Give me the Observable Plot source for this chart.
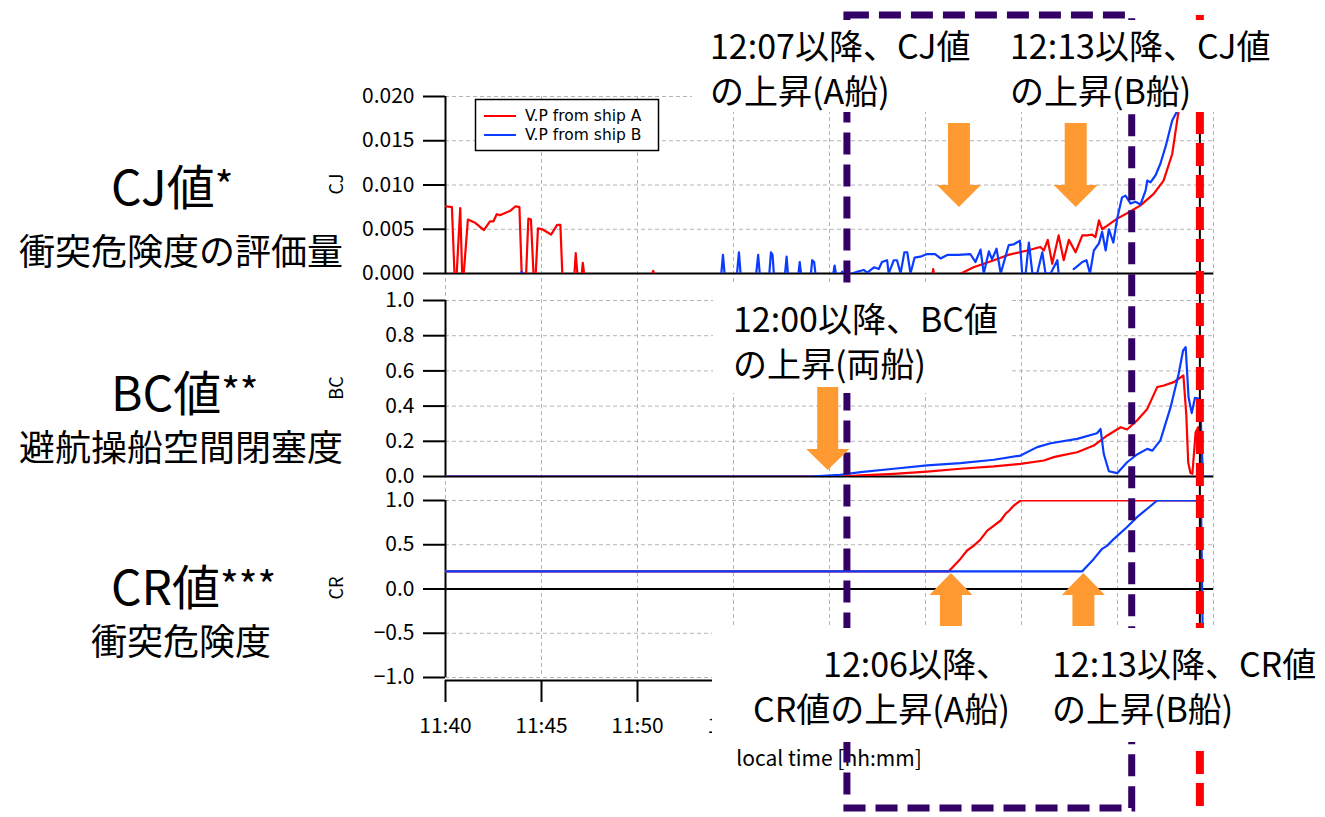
<!DOCTYPE html>
<html><head><meta charset="utf-8">
<script src="https://cdn.jsdelivr.net/npm/d3@7"></script>
<script src="https://cdn.jsdelivr.net/npm/@observablehq/plot@0.6"></script>
<style>
body{margin:0;background:#fff;}
#fig{position:relative;width:1325px;height:817px;overflow:hidden;background:#fff;font-family:"Noto Sans CJK JP","Noto Sans",sans-serif;}
#fig svg{position:absolute;left:0;top:0;}
</style></head><body><div id="fig"></div>
<script>
// ---------- data (time = minutes after 11:40) ----------
const startClock = [11, 40];
const endMinutes = 40;
const timeTicks = [0, 5, 10, 15, 20, 25, 30, 35, 40];
const visibleTimeLabels = [0, 5, 10, 15];   // the others are hidden behind the note boxes
const cjTicks = [0, 0.005, 0.010, 0.015, 0.020];
const bcTicks = [0, 0.2, 0.4, 0.6, 0.8, 1.0];
const crTicks = [-1, -0.5, 0, 0.5, 1];
const seriesNames = ["V.P from ship A", "V.P from ship B"];

// CJ, ship A (null = no data)
const cjA_min = [0.00,0.33,0.47,0.58,0.76,0.86,0.95,1.16,1.56,2.00,2.31,2.50,2.66,2.86,3.39,3.65,3.85,3.96,4.20,4.31,4.45,4.58,4.70,4.81,5.03,5.50,5.82,5.99,6.08,6.30,
  6.72,6.78,6.86,7.00,7.10,7.15,7.22,8.00,10.78,10.82,10.86,15.0,25.36,25.40,25.44,26.0,
  26.85,27.50,28.56,29.30,30.30,30.99,31.16,31.37,31.60,31.94,32.20,32.46,32.81,33.16,33.42,33.68,33.85,34.03,34.20,34.46,34.98,35.50,36.20,36.89,37.40,37.85,38.19,38.45];
const cjA_val = [0.0076,0.0075,0,0,0.0074,0,0,0.0061,0.0057,0.0049,0.0059,0.0059,0.0067,0.0066,0.0071,0.0076,0.0075,0,0,0.0062,0.0061,0,0,0.0051,0.0050,0.0044,0.0055,0.0055,0,null,
  0,0.0023,0,null,0,0.0012,0,null,0,0.0003,0,null,0,0.0005,0,null,
  0,0.0007,0.0015,0.0021,0.0026,0.0030,0.0026,0.0038,0.0011,0.0043,0.0015,0.0038,0.0024,0.0043,0.0043,0.0044,0.0041,0.0060,0.0050,0.0054,0.0062,0.0068,0.0077,0.0090,0.0105,0.0135,0.0184,0.0260];

// CJ, ship B
const cjB_min = [3.94,3.97,4.00,4.2, 14.36,14.45,14.54,14.8, 15.19,15.28,15.37,15.6, 16.19,16.28,16.37,16.6, 16.86,16.95,17.04,17.10,17.3,
  17.68,17.76,17.84,18.0, 18.38,18.45,18.52,18.7, 19.03,19.10,19.20,19.27,19.5, 20.20,20.26,20.33,20.45, 20.60,20.66,20.72,20.9,
  21.18,21.44,21.79,21.96,22.31,22.57,22.74,23.00,23.09,23.35,23.52,23.70,23.90,24.05,24.22,24.43,24.74,25.09,25.50,25.78,26.13,26.70,
  27.34,27.60,27.86,28.04,28.30,28.47,28.70,28.91,29.34,29.60,29.91,30.03,30.21,30.38,30.56,30.82,31.08,31.25,31.51,31.86,31.94,32.3,
  32.72,32.90,33.16,33.39,33.56,33.77,34.03,34.20,34.38,34.55,34.78,34.98,35.24,35.42,35.68,35.94,36.20,36.46,36.55,36.72,36.98,37.24,37.50,37.85,38.11,38.30];
const cjB_val = [0,0.0002,0,null, 0,0.0021,0,null, 0,0.0024,0,null, 0,0.0021,0,null, 0,0.0024,0.0021,0,null,
  0,0.0019,0,null, 0,0.0013,0,null, 0,0.0015,0.0013,0,null, 0,0.0009,0,null, 0,0.0002,0,null,
  0,0.0002,0.0004,0.0001,0.0007,0.0005,0.0013,0.0015,0,0.0015,0.0015,0,0.0024,0.0024,0,0.0018,0.0019,0.0022,0.0022,0.0017,0.0021,0.0021,
  0.0022,0.0013,0.0027,0,0.0025,0.0016,0.0028,0,0.0032,0.0033,0.0037,0,0,0.0035,0,0,0.0024,0,0,0.0015,0,null,
  0.0005,0.0008,0.0013,0.0015,0,0.0026,0.0034,0.0047,0.0026,0.0050,0.0035,0.0062,0.0086,0.0088,0.0079,0.0081,0.0078,0.0094,0.0105,0.0103,0.0111,0.0124,0.0143,0.0173,0.0184,0.0240];

// BC, ship A
const bcA_min = [0,20.57,21.61,23.35,25.09,26.82,28.56,29.95,31.16,31.68,32.03,32.90,33.77,34.46,35.16,35.50,36.02,36.55,37.07,37.41,37.93,38.44,38.58,38.68,38.80,38.90,39.06,39.20,39.32,39.45];
const bcA_val = [0,0,0.006,0.015,0.028,0.044,0.057,0.072,0.091,0.110,0.119,0.138,0.176,0.233,0.280,0.267,0.318,0.384,0.508,0.517,0.536,0.574,0.350,0.080,0.020,0.015,0.250,0.280,0.200,0];
// BC, ship B
const bcB_min = [0,19.00,20.57,21.61,23.35,25.09,26.82,28.56,29.95,30.82,31.51,32.90,33.94,34.11,34.29,34.55,34.98,35.50,36.02,36.55,36.81,37.24,37.76,38.19,38.42,38.55,38.70,38.86,39.04,39.30,39.45,39.90];
const bcB_val = [0,0,0.010,0.025,0.044,0.063,0.076,0.095,0.119,0.167,0.189,0.214,0.246,0.270,0.129,0.030,0.019,0.081,0.125,0.157,0.147,0.205,0.394,0.583,0.716,0.735,0.450,0.360,0.447,0.440,0,0];

// CR, ship A
const crA_min = [0,26.22,26.82,27.17,27.52,27.86,28.21,28.56,28.91,29.17,29.34,29.60,29.95,39.30];
const crA_val = [0.2,0.2,0.34,0.435,0.49,0.56,0.66,0.717,0.774,0.85,0.88,0.943,1.0,1.0];
// CR, ship B
const crB_min = [0,33.16,33.77,34.20,34.46,34.81,35.50,36.02,36.55,37.07,39.35,39.47];
const crB_val = [0.2,0.2,0.34,0.454,0.49,0.567,0.70,0.812,0.907,1.0,1.0,-1.0];

// annotation times (minutes after 11:40)
const boxStart = 20.94, boxEnd = 35.76, redMarker = 39.32;
const cjArrowTimes = [26.77, 32.85];
const bcArrowTimes = [19.93];
const crArrowTimes = [26.35, 33.25];

// ---------- helpers ----------
const FONT = '"Noto Sans CJK JP","Noto Sans",sans-serif';
const RED = "#ff0000", BLUE = "#0a3cff", ORANGE = "#ff9a33", PURPLE = "#330066";
const T = m => new Date(2020, 0, 1, startClock[0], startClock[1] + Math.floor(m), Math.round((m % 1) * 60));
const rows = (mins, vals) => mins.map((m, i) => ({time: T(m), value: vals[i] == null ? NaN : vals[i]}));
const xDomain = [T(0), T(endMinutes)];
const gridStyle = {stroke: "#b4b4b4", strokeOpacity: 1, strokeWidth: 1, strokeDasharray: "4,3"};
const common = {width: 1325, marginLeft: 445, marginRight: 112,
  style: {background: "transparent", position: "absolute", left: "0px", top: "0px", overflow: "visible", fontFamily: FONT}};
const fig = document.getElementById("fig");

// background vertical grid
const bg = Plot.plot({...common, height: 817, marginTop: 96, marginBottom: 140,
  x: {type: "time", domain: xDomain, axis: null},
  marks: [Plot.gridX(timeTicks.map(T), gridStyle)]});
fig.appendChild(bg);

const hhmm = d3.timeFormat("%H:%M");
const visibleLabelTimes = new Set(visibleTimeLabels.map(m => +T(m)));

function panel({height, marginTop, marginBottom, domain, ticks, fmt, A, B, xAxis}) {
  const marks = [
    Plot.gridY(ticks.filter(d => d !== 0), gridStyle),
    Plot.ruleY([0], {stroke: "black", strokeWidth: 2}),
    Plot.ruleX([T(0)], {stroke: "black", strokeWidth: 2}),
    Plot.axisY(ticks, {tickSize: 22, tickPadding: 9, tickFormat: d3.format(fmt), fontSize: 21, strokeWidth: 2, label: null}),
    Plot.line(A, {x: "time", y: "value", stroke: RED, strokeWidth: 2.2, clip: true}),
    Plot.line(B, {x: "time", y: "value", stroke: BLUE, strokeWidth: 2.2, clip: true})
  ];
  if (xAxis) {
    marks.push(Plot.ruleY([domain[0]], {stroke: "black", strokeWidth: 2, dy: 3}));
    marks.push(Plot.axisX(timeTicks.map(T), {tickSize: 22, tickPadding: 16,
      tickFormat: d => visibleLabelTimes.has(+d) ? hhmm(d) : "", fontSize: 21, strokeWidth: 2, label: null, dy: 3}));
  }
  return Plot.plot({...common, height, marginTop, marginBottom,
    x: {type: "time", domain: xDomain, ...(xAxis ? {} : {axis: null})},
    y: {domain},
    marks});
}

const cj = panel({height: 290, marginTop: 96, marginBottom: 17, domain: [0, 0.02], ticks: cjTicks, fmt: ".3f",
  A: rows(cjA_min, cjA_val), B: rows(cjB_min, cjB_val)});
const bc = panel({height: 490, marginTop: 300, marginBottom: 14, domain: [0, 1], ticks: bcTicks, fmt: ".1f",
  A: rows(bcA_min, bcA_val), B: rows(bcB_min, bcB_val)});
const cr = panel({height: 817, marginTop: 500, marginBottom: 140, domain: [-1, 1], ticks: crTicks, fmt: ".1f",
  A: rows(crA_min, crA_val), B: rows(crB_min, crB_val), xAxis: true});
fig.appendChild(cj); fig.appendChild(bc); fig.appendChild(cr);

// ---------- annotation overlay ----------
const xs = cr.scale("x");
const px = m => xs.apply(T(m));
const svg = d3.select(fig).append("svg").attr("width", 1325).attr("height", 817).style("font-family", FONT);

// y-axis titles
[["CJ", 184], ["BC", 388], ["CR", 588]].forEach(([t, y]) =>
  svg.append("text").attr("transform", `translate(335,${y}) rotate(-90)`).attr("text-anchor", "middle")
    .attr("dominant-baseline", "central").attr("font-size", 18).text(t));

// left descriptions
function bigLabel(main, stars, y) {
  const t = svg.append("text").attr("x", 111).attr("y", y).attr("font-size", 48);
  t.append("tspan").text(main);
  t.append("tspan").attr("font-size", 40).attr("dy", -4).text(stars);
}
bigLabel("CJ値", "*", 205);
bigLabel("BC値", "**", 411);
bigLabel("CR値", "***", 605);
[["衝突危険度の評価量", 265], ["避航操船空間閉塞度", 461], ["衝突危険度", 655]].forEach(([t, y]) =>
  svg.append("text").attr("x", 181).attr("y", y).attr("text-anchor", "middle").attr("font-size", 36).text(t));

// x axis title
svg.append("text").attr("x", px(20)).attr("y", 757).attr("text-anchor", "middle").attr("dominant-baseline", "central")
  .attr("font-size", 21).text("local time [hh:mm]");

// black marker line under the red dashes
svg.append("line").attr("x1", px(redMarker)).attr("x2", px(redMarker)).attr("y1", 96).attr("y2", 680)
  .attr("stroke", "black").attr("stroke-width", 2);
// purple dashed box
svg.append("rect").attr("x", px(boxStart)).attr("y", 15).attr("width", px(boxEnd) - px(boxStart)).attr("height", 793)
  .attr("fill", "none").attr("stroke", PURPLE).attr("stroke-width", 7).attr("stroke-dasharray", "22,10");
// red dashed line
svg.append("line").attr("x1", px(redMarker)).attr("x2", px(redMarker)).attr("y1", 15).attr("y2", 815)
  .attr("stroke", RED).attr("stroke-width", 8).attr("stroke-dasharray", "23,9");

// white text boxes
[[692, 20, 598, 92], [713, 284, 297, 109], [712, 628, 613, 114]].forEach(([x, y, w, h]) =>
  svg.append("rect").attr("x", x).attr("y", y).attr("width", w).attr("height", h).attr("fill", "white"));

function note(lines, x, y0, anchor = "start") {
  lines.forEach((l, i) => svg.append("text").attr("x", x).attr("y", y0 + i * 45).attr("text-anchor", anchor)
    .attr("font-size", 34).text(l));
}
note(["12:07以降、CJ値", "の上昇(A船)"], 710, 59);
note(["12:13以降、CJ値", "の上昇(B船)"], 1010, 59);
note(["12:00以降、BC値", "の上昇(両船)"], 733, 332);
note(["12:06以降、", "CR値の上昇(A船)"], 1010, 677, "end");
note(["12:13以降、CR値", "の上昇(B船)"], 1052, 677);

// orange arrows
function arrowDown(cx, top, headY, tip, sw, hw) {
  return `M${cx - sw},${top}H${cx + sw}V${headY}H${cx + hw}L${cx},${tip}L${cx - hw},${headY}H${cx - sw}Z`;
}
cjArrowTimes.forEach(m => svg.append("path").attr("d", arrowDown(px(m), 123, 185, 207, 11, 22)).attr("fill", ORANGE));
bcArrowTimes.forEach(m => svg.append("path").attr("d", arrowDown(px(m), 387, 449, 470, 10.5, 21.5)).attr("fill", ORANGE));
crArrowTimes.forEach(m => svg.append("path").attr("d", arrowDown(px(m), 626, 595, 573, 11, 21.5)).attr("fill", ORANGE));

// legend
const lg = svg.append("g");
lg.append("rect").attr("x", 475.5).attr("y", 99.5).attr("width", 183).attr("height", 51)
  .attr("fill", "white").attr("stroke", "black").attr("stroke-width", 1.5);
[[RED, 116], [BLUE, 135]].forEach(([c, y], i) => {
  lg.append("line").attr("x1", 484).attr("x2", 516).attr("y1", y).attr("y2", y).attr("stroke", c).attr("stroke-width", 2);
  lg.append("text").attr("x", 525).attr("y", y).attr("dominant-baseline", "central").attr("font-size", 15.5)
    .attr("font-family", '"DejaVu Sans",sans-serif').text(seriesNames[i]);
});
</script></body></html>
